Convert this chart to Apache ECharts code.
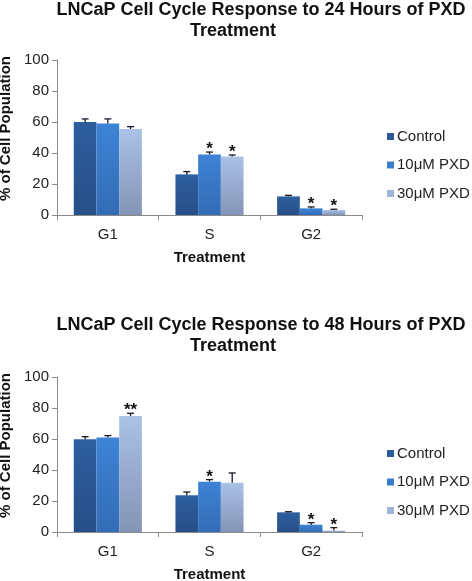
<!DOCTYPE html>
<html>
<head>
<meta charset="utf-8">
<script src="https://cdn.jsdelivr.net/npm/echarts@6/dist/echarts.min.js"></script>
<style>html,body{margin:0;padding:0;background:#fff}#c{width:472px;height:581px}</style>
</head>
<body>
<div id="c"></div>
<script>
const categories = ['G1', 'S', 'G2'];
const seriesNames = ['Control', '10μM PXD', '30μM PXD'];
const yTicks = [0, 20, 40, 60, 80, 100];

// 24 hours
const ctrl24 = [60, 26.2, 12];
const ctrl24Err = [2, 1.8, 0.7];
const pxd10_24 = [59.1, 39.1, 4.3];
const pxd10_24Err = [2.9, 1.5, 0.9];
const pxd30_24 = [55.5, 37.8, 3.2];
const pxd30_24Err = [1.5, 0.9, 0.5];
const sig24 = [['', '', ''], ['', '*', '*'], ['', '*', '*']]; // [series][category]

// 48 hours
const ctrl48 = [59.8, 23.7, 12.7];
const ctrl48Err = [1.7, 2.1, 0.4];
const pxd10_48 = [60.9, 32.5, 4.7];
const pxd10_48Err = [1.3, 1.3, 1.3];
const pxd30_48 = [74.8, 31.8, 0.9];
const pxd30_48Err = [1.8, 6.3, 1.9];
const sig48 = [['', '', ''], ['', '*', '*'], ['**', '', '*']];

const FONT = "'Liberation Sans', Arial, Helvetica, sans-serif";
const colors = [
  {type:'linear', x:0, y:0, x2:0, y2:1, colorStops:[{offset:0,color:'#2d5e9f'},{offset:1,color:'#274f88'}]},
  {type:'linear', x:0, y:0, x2:0, y2:1, colorStops:[{offset:0,color:'#3d83d6'},{offset:1,color:'#336cb5'}]},
  {type:'linear', x:0, y:0, x2:0, y2:1, colorStops:[{offset:0,color:'#abc1e6'},{offset:1,color:'#8494b6'}]}
];
const legendColors = ['#2c5a98', '#3a7dcf', '#a0b3d8'];
const CAT_GAP = 0.33;

function barSeries(name, idx, vals, gi) {
  return {
    name: name, type: 'bar', xAxisIndex: gi, yAxisIndex: gi,
    data: vals, barGap: '0%', barCategoryGap: (CAT_GAP * 100) + '%',
    itemStyle: {color: colors[idx]}, silent: true
  };
}

function errSeries(idx, vals, errs, stars, gi) {
  return {
    type: 'custom', xAxisIndex: gi, yAxisIndex: gi, z: 10, silent: true,
    data: vals.map((v, i) => [i, v, errs[i]]),
    encode: {x: 0, y: 1},
    renderItem: function (params, api) {
      const c = api.value(0), v = api.value(1), e = api.value(2);
      const base = api.coord([c, v]);
      const top = api.coord([c, v + e]);
      const band = api.size([1, 0])[0];
      const bw = band * (1 - CAT_GAP) / 3;
      const x = base[0] + (idx - 1) * bw;
      const st = {stroke: '#1a1a2a', lineWidth: 1.3};
      const children = [
        {type: 'line', shape: {x1: x, y1: base[1], x2: x, y2: top[1]}, style: st},
        {type: 'line', shape: {x1: x - 3.5, y1: top[1], x2: x + 3.5, y2: top[1]}, style: st}
      ];
      const s = stars[params.dataIndex];
      if (s) {
        children.push({type: 'text', x: x, y: top[1] + 6, style: {
          text: s, fontFamily: FONT, fontSize: 17, fontWeight: 'bold', fill: '#111',
          align: 'center', verticalAlign: 'bottom'}});
      }
      return {type: 'group', children: children};
    }
  };
}

function gridAxes(top) {
  return {
    grid: {left: 57, width: 305, top: top, height: 155, containLabel: false, outerBoundsMode: 'none'},
    xAxis: {
      type: 'category', data: categories,
      axisLine: {lineStyle: {color: '#8a8a8a', width: 1}},
      axisTick: {show: true, length: 5, lineStyle: {color: '#8a8a8a'}},
      axisLabel: {color: '#222', fontFamily: FONT, fontSize: 15, margin: 12},
      name: 'Treatment', nameLocation: 'middle', nameGap: 35,
      nameTextStyle: {color: '#111', fontFamily: FONT, fontSize: 15, fontWeight: 'bold'}
    },
    yAxis: {
      type: 'value', min: 0, max: 100, interval: 20,
      axisLine: {show: true, lineStyle: {color: '#8a8a8a', width: 1}},
      axisTick: {show: true, length: 5, lineStyle: {color: '#8a8a8a'}},
      splitLine: {show: false},
      axisLabel: {color: '#222', fontFamily: FONT, fontSize: 15, margin: 8,
        customValues: yTicks},
      name: '% of Cell Population', nameLocation: 'middle', nameGap: 41,
      nameTextStyle: {color: '#111', fontFamily: FONT, fontSize: 15, fontWeight: 'bold', padding: [0, 0, 0, 18]}
    }
  };
}

const g1 = gridAxes(60), g2 = gridAxes(377);

function titleParts(line1, top1) {
  return [
    {text: line1, left: 261, textAlign: 'center', top: top1, padding: 0,
      textStyle: {fontFamily: FONT, fontSize: 18, fontWeight: 'bold', color: '#111', lineHeight: 20}},
    {text: 'Treatment', left: 233, textAlign: 'center', top: top1 + 21, padding: 0,
      textStyle: {fontFamily: FONT, fontSize: 18, fontWeight: 'bold', color: '#111', lineHeight: 20}}
  ];
}

function legendAt(top) {
  return {
    orient: 'vertical', left: 387, top: top, itemWidth: 7, itemHeight: 7, itemGap: 13.5,
    icon: 'rect', padding: 0, selectedMode: false,
    data: seriesNames.map((n, i) => ({name: n, itemStyle: {color: legendColors[i]}})),
    textStyle: {fontFamily: FONT, fontSize: 15, color: '#222', lineHeight: 15, padding: [0, 0, 0, -2]}
  };
}

const chart = echarts.init(document.getElementById('c'), null, {renderer: 'canvas'});
chart.setOption({
  animation: false,
  backgroundColor: '#fff',
  title: titleParts('LNCaP Cell Cycle Response to 24 Hours of PXD', 0)
    .concat(titleParts('LNCaP Cell Cycle Response to 48 Hours of PXD', 315)),
  legend: [legendAt(129), legendAt(446)],
  grid: [g1.grid, g2.grid],
  xAxis: [Object.assign({gridIndex: 0}, g1.xAxis), Object.assign({gridIndex: 1}, g2.xAxis)],
  yAxis: [Object.assign({gridIndex: 0}, g1.yAxis), Object.assign({gridIndex: 1}, g2.yAxis)],
  series: [
    barSeries(seriesNames[0], 0, ctrl24, 0),
    barSeries(seriesNames[1], 1, pxd10_24, 0),
    barSeries(seriesNames[2], 2, pxd30_24, 0),
    barSeries(seriesNames[0], 0, ctrl48, 1),
    barSeries(seriesNames[1], 1, pxd10_48, 1),
    barSeries(seriesNames[2], 2, pxd30_48, 1),
    errSeries(0, ctrl24, ctrl24Err, sig24[0], 0),
    errSeries(1, pxd10_24, pxd10_24Err, sig24[1], 0),
    errSeries(2, pxd30_24, pxd30_24Err, sig24[2], 0),
    errSeries(0, ctrl48, ctrl48Err, sig48[0], 1),
    errSeries(1, pxd10_48, pxd10_48Err, sig48[1], 1),
    errSeries(2, pxd30_48, pxd30_48Err, sig48[2], 1)
  ]
});
</script>
</body>
</html>
